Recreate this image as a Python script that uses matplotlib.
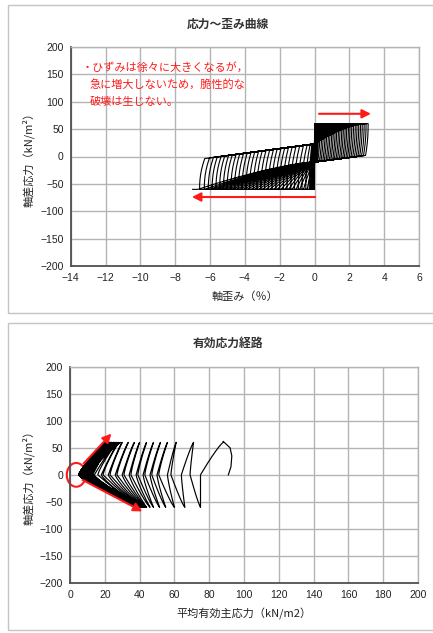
import numpy as np
import matplotlib
matplotlib.use("Agg")
import matplotlib.pyplot as plt
from matplotlib.patches import Rectangle, Ellipse

plt.rcParams['font.family'] = ['Noto Sans CJK JP', 'DejaVu Sans']

# ---------------- data ----------------
# Stress-strain: peak strains (%) reached in each cycle
strain_ext_peak = [0.01, 0.01, 0.02, 0.02, 0.03, 0.04, 0.05, 0.06, 0.08, 0.10, 0.13, 0.17,
                   0.24, 0.33, 0.43, 0.52, 0.62, 0.71, 0.81, 0.90, 1.00, 1.09,
                   1.19, 1.28, 1.38, 1.47, 1.57, 1.66, 1.76, 1.85, 1.95, 2.04,
                   2.14, 2.24, 2.34, 2.44, 2.54, 2.64, 2.74, 2.85, 2.96, 3.08]
strain_comp_peak = [-0.02, -0.02, -0.03, -0.04, -0.05, -0.06, -0.08, -0.10, -0.13, -0.17, -0.22, -0.30,
                    -0.50, -0.72, -0.93, -1.15, -1.36, -1.58, -1.79, -2.01, -2.22, -2.44,
                    -2.65, -2.87, -3.08, -3.30, -3.51, -3.73, -3.94, -4.16, -4.37, -4.59,
                    -4.80, -5.02, -5.23, -5.45, -5.66, -5.88, -6.10, -6.33, -6.60, -7.00]
stress_amp = 60.0
# soft reloading paths of the loops (strain %, stress kN/m2)
upper_path_strain = [-7.3, 0.0]
upper_path_stress = [-8.0, 23.0]
lower_path_strain = [0.0, 3.2]
lower_path_stress = [-10.0, 3.0]

# Effective stress path: p' at the turning points of each cycle
sp_start_p = [91, 92.5, 93, 92, 88]
sp_start_q = [0, 15, 35, 50, 62]
sp_top_p = [88, 71, 61, 56, 52, 48, 44, 40, 37, 33.5, 30, 28,
            27, 25, 29, 24, 26, 23, 28, 22, 25, 23, 27, 22, 24, 21, 26,
            23, 21, 25, 22, 24, 21, 23, 20, 22, 21, 23, 20, 22, 20, 21]
sp_bot_p = [75, 66, 60, 55, 51.5, 48, 46, 44, 43, 42, 41.5, 41,
            41, 43, 40, 44, 41, 42, 40, 43, 41, 40, 42, 41, 40, 43, 41,
            40, 42, 40, 41, 40, 42, 40, 41, 40, 41, 40, 42, 40, 41, 40]
sp_mid_dn_p = [75, 64, 56, 50, 46, 42, 38, 34, 30, 26, 22, 18,
               14, 12, 10, 13, 9, 11, 8, 12, 9, 7, 10, 8, 11, 7, 9,
               6, 8, 10, 7, 6, 9, 7, 5, 8, 6, 7, 5, 6, 5, 5]
sp_mid_up_p = [69, 58, 51, 47, 43, 39, 35, 31, 27, 23, 19, 16,
               13, 11, 9, 12, 8, 10, 7, 11, 8, 6, 9, 7, 10, 6, 8,
               5, 7, 9, 6, 5, 8, 6, 5, 7, 5, 6, 5, 5, 5, 5]

# ---------------- figure ----------------
W, H = 433, 633
fig = plt.figure(figsize=(W / 100, H / 100), dpi=100)

def fx(px):
    return px / W

def fy(py):
    return 1 - py / H

# panel frames
for (x0, y0, x1, y1) in [(8, 5, 440, 313), (8, 323, 440, 630)]:
    fig.patches.append(Rectangle((fx(x0), fy(y1)), fx(x1 - x0), (y1 - y0) / H,
                                 transform=fig.transFigure, fill=False,
                                 edgecolor='#c4c4c4', lw=1.0))

def style_axes(ax):
    ax.grid(True, color='#b4b4b4', lw=1.0)
    ax.set_axisbelow(True)
    for s in ['top', 'right']:
        ax.spines[s].set_color('#b4b4b4')
        ax.spines[s].set_linewidth(1.0)
    for s in ['left', 'bottom']:
        ax.spines[s].set_color('#505050')
        ax.spines[s].set_linewidth(1.3)
    ax.tick_params(length=0, labelsize=7.5, pad=5, colors='#222222')

tick_font = ['Liberation Sans', 'DejaVu Sans']

# ---------- top: stress-strain ----------
ax1 = fig.add_axes([fx(70.7), fy(266), fx(419 - 70.7), (266 - 47) / H])
style_axes(ax1)

def U(x):
    return np.interp(x, upper_path_strain, upper_path_stress)

def Lw(x):
    return np.interp(x, lower_path_strain, lower_path_stress)

xs, qs = [0.0], [0.0]
prev_en = 0.0
t = np.linspace(0, 1, 20)
s = np.linspace(0, 1, 40)
for i in range(len(strain_ext_peak)):
    ep = strain_ext_peak[i]
    en = strain_comp_peak[i]
    # compression unloading arc "("
    if i > 0:
        d1 = min(0.3, 0.5 * abs(prev_en))
        xa = prev_en + d1 * t ** 2.2
        qa = -stress_amp + (U(prev_en + d1) + stress_amp) * t
        xs += list(xa); qs += list(qa)
        # extension reloading along the upper soft path
        xl = np.linspace(prev_en + d1, 0, 30)
        xs += list(xl); qs += list(U(xl))
    # stiffening towards +peak, then flat at peak
    f = min(0.15, 0.5 * ep)
    xs += list(s * (ep - f)); qs += list(U(0) + (stress_amp - U(0)) * (1 - (1 - s) ** 1.6))
    xs += [ep]; qs += [stress_amp]
    # extension unloading arc ")"
    d2 = min(0.15, 0.5 * ep)
    xb = ep - d2 * t ** 2.2
    qb = stress_amp - (stress_amp - Lw(ep - d2)) * t
    xs += list(xb); qs += list(qb)
    # compression reloading along the lower soft path
    xc = np.linspace(ep - d2, 0, 30)
    xs += list(xc); qs += list(Lw(xc))
    # stiffening towards -peak, then flat at peak
    g = min(0.3, 0.5 * abs(en))
    xs += list(s * (en + g)); qs += list(Lw(0) + (-stress_amp - Lw(0)) * s ** 1.4)
    xs += [en]; qs += [-stress_amp]
    prev_en = en

ax1.plot(xs, qs, color='black', lw=0.8)
ax1.set_xlim(-14, 6)
ax1.set_ylim(-200, 200)
ax1.set_xticks(np.arange(-14, 7, 2))
ax1.set_yticks(np.arange(-200, 201, 50))
for lab in ax1.get_xticklabels() + ax1.get_yticklabels():
    lab.set_family(tick_font)
ax1.set_xlabel('軸歪み（％）', fontsize=8, labelpad=6, color='#222222')
ax1.set_ylabel('軸差応力（kN/m²）', fontsize=8, labelpad=4, color='#222222')

red = '#ff1a1a'
ax1.annotate('', xy=(3.4, 78), xytext=(0.1, 78),
             arrowprops=dict(arrowstyle='-|>', color=red, lw=1.5, mutation_scale=13))
ax1.annotate('', xy=(-7.2, -74), xytext=(0.2, -74),
             arrowprops=dict(arrowstyle='-|>', color=red, lw=1.5, mutation_scale=13))
ax1.text(-13.4, 163, '・ひずみは徐々に大きくなるが，', color=red, fontsize=8, va='center')
ax1.text(-12.9, 131, '急に増大しないため，脆性的な', color=red, fontsize=8, va='center')
ax1.text(-12.9, 100, '破壊は生じない。', color=red, fontsize=8, va='center')

fig.text(fx(228), fy(24), '応力～歪み曲線', ha='center', va='center', fontsize=8.5,
         fontweight='bold', color='#333333')

# ---------- bottom: effective stress path ----------
ax2 = fig.add_axes([fx(70), fy(583), fx(418 - 70), (583 - 366.7) / H])
style_axes(ax2)

def stroke(p_from, q_from, p_mid, p_to, q_to, n=24):
    u = np.linspace(0, 1, n)
    p1 = p_from + (p_mid - p_from) * u ** 0.85
    q1 = q_from * (1 - u)
    p2 = p_mid + (p_to - p_mid) * u ** 1.25
    q2 = q_to * u
    return list(p1) + list(p2[1:]), list(q1) + list(q2[1:])

ps, qq = list(sp_start_p), list(sp_start_q)
n_c = len(sp_top_p)
for i in range(n_c):
    a, b = stroke(sp_top_p[i], stress_amp, sp_mid_dn_p[i], sp_bot_p[i], -stress_amp)
    ps += a; qq += b
    nxt = sp_top_p[i + 1] if i + 1 < n_c else sp_top_p[i]
    a, b = stroke(sp_bot_p[i], -stress_amp, sp_mid_up_p[i], nxt, stress_amp)
    ps += a; qq += b

ax2.plot(ps, qq, color='black', lw=0.85)
ax2.set_xlim(0, 200)
ax2.set_ylim(-200, 200)
ax2.set_xticks(np.arange(0, 201, 20))
ax2.set_yticks(np.arange(-200, 201, 50))
for lab in ax2.get_xticklabels() + ax2.get_yticklabels():
    lab.set_family(tick_font)
ax2.set_xlabel('平均有効主応力（kN/m2）', fontsize=8, labelpad=6, color='#222222')
ax2.set_ylabel('軸差応力（kN/m²）', fontsize=8, labelpad=4, color='#222222')

ax2.add_patch(Ellipse((3.6, 0), 10.9, 44, fill=False, edgecolor=red, lw=1.5, clip_on=False))
ax2.annotate('', xy=(24.9, 80), xytext=(6.7, 17),
             arrowprops=dict(arrowstyle='-|>', color=red, lw=1.5, mutation_scale=13))
ax2.annotate('', xy=(43, -70), xytext=(5.8, -7),
             arrowprops=dict(arrowstyle='-|>', color=red, lw=1.5, mutation_scale=13))

fig.text(fx(228), fy(343), '有効応力経路', ha='center', va='center', fontsize=8.5,
         fontweight='bold', color='#333333')

fig.savefig('out.png', dpi=100)
